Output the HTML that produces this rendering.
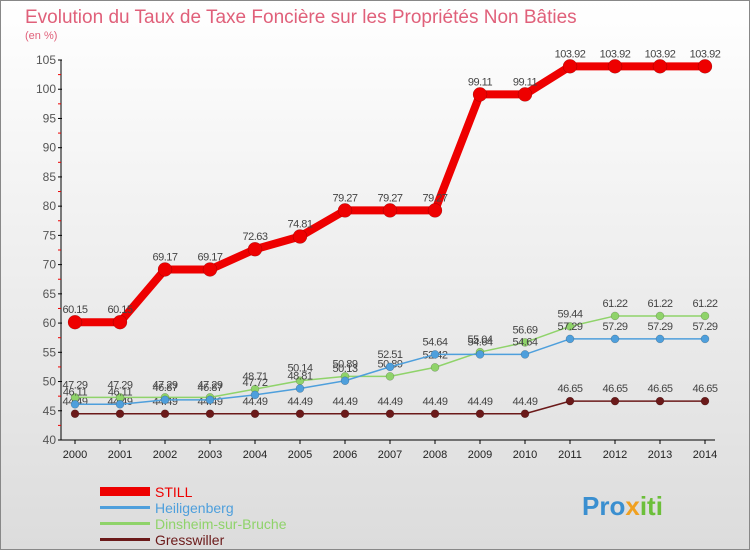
<!DOCTYPE html>
<html><head><meta charset="utf-8"><style>
body{margin:0;width:750px;height:550px;overflow:hidden;font-family:"Liberation Sans",sans-serif}
</style></head><body>
<svg width="750" height="550">
<defs><linearGradient id="bg" x1="0" y1="0" x2="0" y2="1"><stop offset="0" stop-color="#ffffff"/><stop offset="1" stop-color="#dcdcdc"/></linearGradient></defs>
<rect x="0.5" y="0.5" width="749" height="549" fill="url(#bg)" stroke="#888"/>
<text x="25" y="23" font-size="19" fill="#e0607a">Evolution du Taux de Taxe Foncière sur les Propriétés Non Bâties</text>
<text x="25" y="39" font-size="11" fill="#e0607a">(en %)</text>
<g id="axes"></g><g id="series"></g>
<g>
<rect x="100" y="487" width="50" height="9" fill="#ee0000"/>
<text x="155" y="497" font-size="14" fill="#ee0000">STILL</text>
<rect x="100" y="506" width="50" height="3" fill="#4e9fdc"/>
<text x="155" y="513" font-size="14" fill="#4e9fdc">Heiligenberg</text>
<rect x="100" y="522" width="50" height="3" fill="#8fd36a"/>
<text x="155" y="529" font-size="14" fill="#8fd36a">Dinsheim-sur-Bruche</text>
<rect x="100" y="538" width="50" height="3" fill="#6b1a1a"/>
<text x="155" y="545" font-size="14" fill="#6b1a1a">Gresswiller</text>
</g>
<text x="582" y="515" font-size="26" font-weight="bold" fill="#3a8fd0">Pro<tspan fill="#f0a020">x</tspan><tspan fill="#6cbf3a">iti</tspan></text>
</svg>
<script>
const years=[2000,2001,2002,2003,2004,2005,2006,2007,2008,2009,2010,2011,2012,2013,2014];
const still=[60.15,60.15,69.17,69.17,72.63,74.81,79.27,79.27,79.27,99.11,99.11,103.92,103.92,103.92,103.92];
const heiligenberg=[46.11,46.11,46.87,46.87,47.72,48.81,50.13,52.51,54.64,54.64,54.64,57.29,57.29,57.29,57.29];
const dinsheim=[47.29,47.29,47.29,47.29,48.71,50.14,50.89,50.89,52.42,55.04,56.69,59.44,61.22,61.22,61.22];
const gresswiller=[44.49,44.49,44.49,44.49,44.49,44.49,44.49,44.49,44.49,44.49,44.49,46.65,46.65,46.65,46.65];
const yTicks=[40,45,50,55,60,65,70,75,80,85,90,95,100,105];
const NS="http://www.w3.org/2000/svg";
const X=i=>75+i*45, Y=v=>440-(v-40)*(380/65);
function mk(t,a,p){const e=document.createElementNS(NS,t);for(const k in a)e.setAttribute(k,a[k]);p.appendChild(e);return e;}
const ax=document.getElementById('axes');
const yl=mk('line',{x1:61,y1:60,x2:61,y2:440,stroke:'#000'},ax);


const xl=mk('line',{x1:61,y1:440,x2:715,y2:440,stroke:'#000'},ax);


yTicks.forEach(v=>{
 mk('line',{x1:58,y1:Y(v),x2:62,y2:Y(v),stroke:'#000'},ax);
 if(v<105)mk('line',{x1:58,y1:Y(v+2.5),x2:61,y2:Y(v+2.5),stroke:'#e00'},ax);
 const t=mk('text',{x:56,y:Y(v)+4,'font-size':12,'text-anchor':'end',fill:'#555'},ax);t.textContent=v;
 
 
});
years.forEach((y,i)=>{
 mk('line',{x1:X(i),y1:440,x2:X(i),y2:444,stroke:'#000'},ax);
 const t=mk('text',{x:X(i),y:458,'font-size':11,'text-anchor':'middle',fill:'#222'},ax);t.textContent=y;
 
 
});
const sg=document.getElementById('series');
function draw(vals,color,w,r,name){
 const g=mk('g',{},sg);
 
 
 mk('polyline',{points:vals.map((v,i)=>X(i)+','+Y(v)).join(' '),fill:'none',stroke:color,'stroke-width':w,'stroke-linejoin':'round'},g);
 vals.forEach((v,i)=>{
  const c=mk('circle',{cx:X(i),cy:Y(v),r:r,fill:color,stroke:'rgba(0,0,0,0.3)','stroke-width':0.5},g);
  
  
  const t=mk('text',{x:X(i),y:Y(v)-9,'font-size':11,'text-anchor':'middle',fill:'#444','letter-spacing':'-0.5'},g);t.textContent=v;
  
  
 });
}
draw(gresswiller,'#6b1a1a',1.5,4,'gresswiller');
draw(dinsheim,'#8fd36a',1.5,4,'dinsheim');
draw(heiligenberg,'#4e9fdc',1.5,4,'heiligenberg');
draw(still,'#ee0000',8,7,'still');
</script>
</body></html>
